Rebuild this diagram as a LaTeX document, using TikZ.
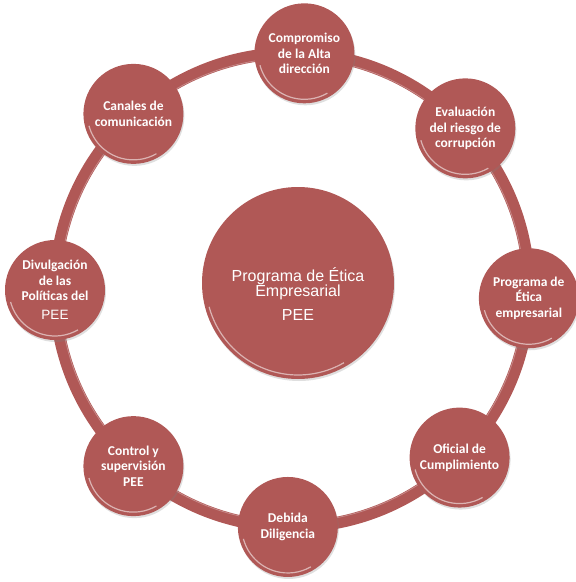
\documentclass[tikz,border=0pt]{standalone}
\usepackage{fontspec}
\setmainfont{Carlito}
\newfontfamily\arialfont{Liberation Sans}
\usetikzlibrary{shadows}
\definecolor{pee}{RGB}{176,88,86}

\begin{document}
\begin{tikzpicture}[x=1pt,y=1pt,
		ball/.style={circle,fill=pee,minimum size=100pt,inner sep=0pt,text=white,align=center,
			font=\fontsize{13.5}{15.5}\selectfont\bfseries,
			drop shadow={opacity=0.25,shadow xshift=1pt,shadow yshift=-2pt}},
		gloss/.style={white,opacity=0.55,line width=1.2pt}]
		\useasboundingbox (0,0) rectangle (576,-582);
		\coordinate (c) at (292,-290);
		% the ring
		\draw[pee,line width=12pt] (c) circle (237);
		\draw[white,opacity=0.3,line width=0.8pt] (c) circle (232);
		% centre
		\node[ball,minimum size=192pt] (pee) at (298,-283) {};
		\node[text=white,align=center,font=\arialfont\fontsize{16}{15}\selectfont] (peetxt)
			at ([yshift=-11pt]pee.center) {Programa de Ética\\Empresarial\\[9pt]PEE};
		\draw[gloss] (pee.center) ++(195:92) arc (195:300:92);
		% steps round the ring
		\foreach \ang/\name/\txt in {
				87/comp/{Compromiso\\de la Alta\\dirección},
				43/riesgo/{Evaluación\\del riesgo de\\corrupción},
				-2/prog/{Programa de\\Ética\\empresarial},
				-45/ofic/{Oficial de\\Cumplimiento},
				-91/debida/{Debida\\Diligencia},
				-132/ctrl/{Control y\\supervisión\\PEE},
				180/divul/{Divulgación\\de las\\Políticas del\\[3pt]{\mdseries\arialfont PEE}},
				132/canal/{Canales de\\comunicación}}{
			\node[ball] (\name) at ([shift={(\ang:237)}]c) {\txt};
			\draw[gloss] (\name.center) ++(195:46) arc (195:300:46);
		}
	\end{tikzpicture}
\end{document}
